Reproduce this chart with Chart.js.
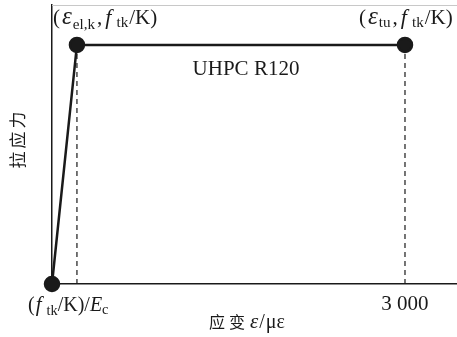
<!DOCTYPE html>
<html>
<head>
<meta charset="utf-8">
<script src="https://cdn.jsdelivr.net/npm/chart.js@4"></script>
<style>
  html, body { margin: 0; padding: 0; background: #fff; }
  #wrap { width: 457px; height: 337px; position: relative; }
</style>
</head>
<body>
<div id="wrap"><canvas id="uhpcChart"></canvas></div>
<script>
// Số liệu (ứng suất chuẩn hoá theo f_tk/K)
var strainPts = [0, 212, 3000];      // με
var stressPts = [0, 1, 1];           // f_tk/K
var dropStrains = [212, 3000];       // các đường đứng nét đứt
var xMax = 3442;
var yMax = 1.167;
var seriesName = 'UHPC R120';
var xTickText = '3 000';
var xTitle = ['应', '变'];
var yTitle = ['拉', '应', '力'];

var SERIF = '"Liberation Serif", "Times New Roman", serif';
var CJK = '"Noto Sans CJK SC", sans-serif';

// vẽ chuỗi có chữ nghiêng / chỉ số dưới
// p: {t: chữ, i: nghiêng, s: chỉ số dưới, z: cỡ chữ, f: font, g: khoảng cách thêm}
function richText(ctx, parts, x, y, size) {
    var cx = x;
    parts.forEach(function (p) {
        var fs = p.z || (p.s ? size * 0.72 : size);
        ctx.font = (p.i ? 'italic ' : '') + fs + 'px ' + (p.f || SERIF);
        ctx.fillText(p.t, cx, p.s ? y + (p.d || 3) : y);
        cx += ctx.measureText(p.t).width + (p.g || 0);
    });
    return cx;
}

var labelPlugin = {
    id: 'labels',
    afterDraw: function (chart) {
        var ctx = chart.ctx;
        var a = chart.chartArea;
        var xs = chart.scales.x;
        ctx.save();
        // đường viền trên màu xám
        ctx.strokeStyle = '#c8c8c8';
        ctx.lineWidth = 1;
        ctx.beginPath();
        ctx.moveTo(a.left, a.top + 0.5);
        ctx.lineTo(a.right, a.top + 0.5);
        ctx.stroke();

        ctx.fillStyle = '#1a1a1a';
        ctx.textBaseline = 'alphabetic';
        ctx.textAlign = 'left';
        richText(ctx, [
            { t: '(', g: 2 }, { t: '\u03b5', i: 1, z: 25, g: 1 }, { t: 'el,k', s: 1, d: 5, g: 2 },
            { t: ',', g: 3 }, { t: 'f', i: 1, z: 22, g: 5 }, { t: 'tk', s: 1, g: 1 }, { t: '/K)' }
        ], 53, 24, 21);
        richText(ctx, [
            { t: '(', g: 2 }, { t: '\u03b5', i: 1, z: 25, g: 1 }, { t: 'tu', s: 1, d: 3, g: 2 },
            { t: ',', g: 3 }, { t: 'f', i: 1, z: 22, g: 5 }, { t: 'tk', s: 1, g: 1 }, { t: '/K)' }
        ], 359, 24, 21);
        richText(ctx, [
            { t: '(', g: 1 }, { t: 'f', i: 1, z: 21, g: 5 }, { t: 'tk', s: 1, d: 4 },
            { t: '/K)/' }, { t: 'E', i: 1 }, { t: 'c', s: 1, d: 3 }
        ], 28, 311, 20);

        ctx.textAlign = 'center';
        ctx.font = '21px ' + SERIF;
        ctx.fillText(seriesName, 246, 75);
        ctx.fillText(xTickText, xs.getPixelForValue(3000), 310);

        // tiêu đề trục x
        ctx.textAlign = 'left';
        richText(ctx, [
            { t: xTitle[0], f: CJK, z: 16, g: 4 }, { t: xTitle[1], f: CJK, z: 16, g: 5 },
            { t: '\u03b5', i: 1, z: 21, g: 1 }, { t: '/', z: 20, g: 1 }, { t: '\u03bc\u03b5', z: 20 }
        ], 209, 328, 20);

        // tiêu đề trục y
        ctx.translate(18, 140);
        ctx.rotate(-Math.PI / 2);
        ctx.textAlign = 'center';
        ctx.font = '17px ' + CJK;
        yTitle.forEach(function (c, i) { ctx.fillText(c, (i - 1) * 20, 6); });
        ctx.restore();
    }
};

var ctx = document.getElementById('uhpcChart').getContext('2d');
var chart = new Chart(ctx, {
    type: 'scatter',
    data: {
        datasets: [{
            data: strainPts.map(function (v, i) { return { x: v, y: stressPts[i] }; }),
            showLine: true,
            clip: false,
            borderColor: '#1a1a1a',
            backgroundColor: '#1a1a1a',
            borderWidth: 2.5,
            pointRadius: 7,
            pointHoverRadius: 7,
            order: 0
        }].concat(dropStrains.map(function (s) {
            return {
                data: [{ x: s, y: 0 }, { x: s, y: 1 }],
                showLine: true,
                borderColor: '#1a1a1a',
                borderWidth: 1.2,
                borderDash: [5, 4],
                pointRadius: 0,
                order: 1
            };
        }))
    },
    options: {
        responsive: true,
        maintainAspectRatio: false,
        animation: false,
        events: [],
        layout: { autoPadding: false, padding: { left: 52, top: 5, right: 0, bottom: 53 } },
        plugins: { legend: { display: false }, tooltip: { enabled: false } },
        scales: {
            x: {
                type: 'linear', min: 0, max: xMax,
                grid: { display: false, drawTicks: false },
                ticks: { display: false },
                border: { display: true, color: '#1a1a1a', width: 1.5 }
            },
            y: {
                type: 'linear', min: 0, max: yMax,
                grid: { display: false, drawTicks: false },
                ticks: { display: false },
                border: { display: true, color: '#1a1a1a', width: 1.5 }
            }
        }
    },
    plugins: [labelPlugin]
});
</script>
</body>
</html>
